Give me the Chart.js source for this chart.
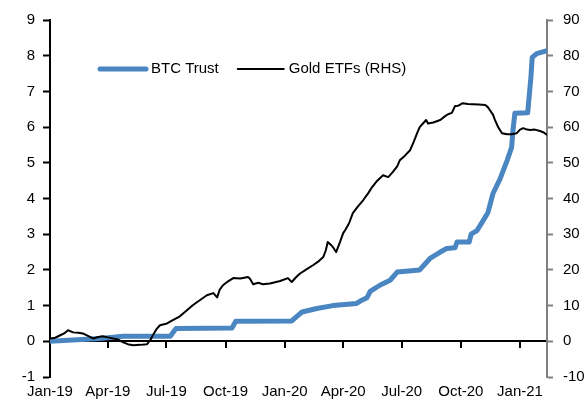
<!DOCTYPE html>
<html>
<head>
<meta charset="utf-8">
<script src="https://cdn.jsdelivr.net/npm/chart.js@4"></script>
<style>
html,body{margin:0;padding:0;background:#fff;}
#wrap{width:588px;height:400px;}
</style>
</head>
<body>
<div id="wrap"><canvas id="c" width="588" height="400"></canvas></div>
<script>
// ---- Data ----
const startDate = '2019-01-01';
const endDate = '2021-02-12';
const tickDates = ['2019-01-01','2019-04-01','2019-07-01','2019-10-01','2020-01-01','2020-04-01','2020-07-01','2020-10-01','2021-01-01'];
const tickLabels = ['Jan-19','Apr-19','Jul-19','Oct-19','Jan-20','Apr-20','Jul-20','Oct-20','Jan-21'];

const btcLabel = 'BTC Trust';
const btcDates = ['2019-01-01','2019-03-20','2019-04-25','2019-07-07','2019-07-16','2019-10-11','2019-10-17','2020-01-12','2020-01-20','2020-01-28',
  '2020-02-20','2020-03-16','2020-04-22','2020-04-30','2020-05-08','2020-05-13','2020-05-28','2020-06-13','2020-06-24','2020-07-29',
  '2020-08-14','2020-08-30','2020-09-09','2020-09-22','2020-09-25','2020-10-14','2020-10-17','2020-10-26','2020-11-03','2020-11-12',
  '2020-11-20','2020-12-01','2020-12-12','2020-12-19','2020-12-21','2020-12-24','2021-01-13','2021-01-15','2021-01-18','2021-01-20',
  '2021-01-27','2021-02-12'];
const btcValues = [0,0.08,0.14,0.14,0.36,0.37,0.56,0.57,0.70,0.82,
  0.92,1.00,1.06,1.15,1.22,1.40,1.57,1.71,1.94,2.00,
  2.32,2.50,2.60,2.62,2.78,2.78,3.00,3.10,3.33,3.60,
  4.14,4.55,5.07,5.43,5.90,6.39,6.40,6.80,7.40,7.95,
  8.06,8.14];

const goldLabel = 'Gold ETFs (RHS)';
const goldDates = ['2019-01-01','2019-01-09','2019-01-17','2019-01-23','2019-01-29','2019-02-06','2019-02-14','2019-02-21','2019-03-01','2019-03-09',
  '2019-03-17','2019-03-24','2019-04-01','2019-04-09','2019-04-17','2019-04-25','2019-05-02','2019-05-10','2019-05-21','2019-06-01',
  '2019-06-06','2019-06-10','2019-06-16','2019-06-21','2019-07-02','2019-07-11','2019-07-22','2019-08-02','2019-08-11','2019-08-18',
  '2019-08-22','2019-09-02','2019-09-12','2019-09-18','2019-09-22','2019-09-27','2019-10-05','2019-10-13','2019-10-24','2019-11-05',
  '2019-11-08','2019-11-13','2019-11-21','2019-11-28','2019-12-09','2019-12-25','2020-01-06','2020-01-12','2020-01-19','2020-01-25',
  '2020-02-05','2020-02-14','2020-02-22','2020-03-01','2020-03-05','2020-03-08','2020-03-13','2020-03-16','2020-03-21','2020-03-27',
  '2020-04-01','2020-04-04','2020-04-10','2020-04-16','2020-04-24','2020-05-02','2020-05-10','2020-05-16','2020-05-24','2020-06-02',
  '2020-06-10','2020-06-17','2020-06-24','2020-06-28','2020-07-06','2020-07-14','2020-07-20','2020-07-25','2020-07-29','2020-08-03',
  '2020-08-08','2020-08-11','2020-08-19','2020-08-30','2020-09-06','2020-09-11','2020-09-17','2020-09-22','2020-09-27','2020-10-04',
  '2020-10-12','2020-10-20','2020-10-29','2020-11-08','2020-11-12','2020-11-15','2020-11-20','2020-11-23','2020-11-28','2020-12-04',
  '2020-12-12','2020-12-19','2020-12-27','2021-01-01','2021-01-06','2021-01-12','2021-01-17','2021-01-24','2021-02-01','2021-02-07',
  '2021-02-12'];
const goldValues = [0.8,1.0,1.7,2.2,3.1,2.5,2.4,2.2,1.5,0.8,
  1.2,1.4,1.1,0.8,0.5,-0.3,-0.8,-1.1,-1.0,-0.8,
  0.3,1.7,3.5,4.5,5.0,5.9,7.0,8.7,10.1,11.0,
  11.5,12.9,13.5,12.3,14.5,15.7,16.8,17.7,17.6,18.0,
  17.5,16.0,16.4,16.0,16.2,16.9,17.7,16.6,18.0,19.0,
  20.3,21.3,22.3,23.6,25.5,27.8,27.0,26.4,25.0,27.8,
  30.3,31.1,33.0,35.9,37.8,39.5,41.5,43.2,45.0,46.5,
  46.0,47.4,49.0,50.7,52.0,53.5,56.0,58.3,60.0,61.0,
  62.0,61.0,61.3,62.0,63.0,63.6,64.0,65.9,66.0,66.7,
  66.5,66.4,66.3,66.2,65.6,64.8,63.5,62.0,60.0,58.3,
  58.0,58.0,58.3,59.3,59.7,59.3,59.2,59.3,58.9,58.5,
  57.8];

const leftTicks = {min: -1, max: 9, step: 1};
const rightTicks = {min: -10, max: 90, step: 10};

// ---- helpers ----
function dayIndex(s){
  const p = s.split('-').map(Number);
  const q = startDate.split('-').map(Number);
  return Math.round((Date.UTC(p[0],p[1]-1,p[2]) - Date.UTC(q[0],q[1]-1,q[2]))/86400000);
}
const tickDays = tickDates.map(dayIndex);
const xMax = dayIndex(endDate);
const toPoints = (dates, vals) => dates.map((d,i)=>({x: dayIndex(d), y: vals[i]}));

const FONT = '"Liberation Sans", Arial, sans-serif';
const BLUE = '#4a86c1';

const setQuarterTicks = (scale) => { scale.ticks = tickDays.map(v => ({value: v})); };

// Legend drawn inside the plot area
const inlineLegend = {
  id: 'inlineLegend',
  afterDatasetsDraw(chart){
    const {ctx, chartArea} = chart;
    const y = chartArea.top + 49;
    let x = chartArea.left + 50;
    ctx.save();
    ctx.font = '15px ' + FONT;
    ctx.textBaseline = 'middle';
    ctx.textAlign = 'left';
    chart.data.datasets.forEach(ds => {
      ctx.beginPath();
      ctx.strokeStyle = ds.borderColor;
      ctx.lineWidth = ds.borderWidth;
      ctx.lineCap = 'round';
      ctx.moveTo(x, y);
      ctx.lineTo(x + 46, y);
      ctx.stroke();
      x += 51;
      ctx.fillStyle = '#000';
      ctx.fillText(ds.label, x, y);
      x += ctx.measureText(ds.label).width + 19;
    });
    ctx.restore();
  }
};

// Quarter tick marks hanging below the zero line (positions from the scales)
const zeroTicks = {
  id: 'zeroTicks',
  afterDraw(chart){
    const {ctx} = chart;
    const xs = chart.scales.x, ys = chart.scales.y;
    const y0 = Math.round(ys.getPixelForValue(0));
    ctx.save();
    ctx.strokeStyle = '#000';
    ctx.lineWidth = 2;
    tickDays.forEach(d => {
      const px = Math.round(xs.getPixelForValue(d));
      if (px <= chart.chartArea.left + 1) return;
      ctx.beginPath();
      ctx.moveTo(px, y0);
      ctx.lineTo(px, y0 + 7);
      ctx.stroke();
    });
    ctx.restore();
  }
};

const whiteBg = {
  id: 'whiteBg',
  beforeDraw(chart){
    const ctx = chart.ctx;
    ctx.save(); ctx.fillStyle = '#fff'; ctx.fillRect(0,0,chart.width,chart.height); ctx.restore();
  }
};

new Chart(document.getElementById('c'), {
  type: 'line',
  data: {
    datasets: [
      { label: btcLabel, data: toPoints(btcDates, btcValues), yAxisID: 'y', xAxisID: 'x',
        borderColor: BLUE, borderWidth: 5, pointRadius: 0, tension: 0, order: 1,
        borderJoinStyle: 'round', borderCapStyle: 'round' },
      { label: goldLabel, data: toPoints(goldDates, goldValues), yAxisID: 'y1', xAxisID: 'x',
        borderColor: '#000', borderWidth: 2, pointRadius: 0, tension: 0, order: 0,
        borderJoinStyle: 'round' }
    ]
  },
  options: {
    responsive: false,
    animation: false,
    devicePixelRatio: 1,
    layout: { padding: { top: 20, left: 0, right: 0, bottom: 0 } },
    plugins: { legend: { display: false }, tooltip: { enabled: false } },
    scales: {
      x: {
        type: 'linear', position: 'bottom', min: 0, max: xMax,
        afterBuildTicks: setQuarterTicks,
        afterFit: s => { s.height = 23; },
        grid: { display: false, drawTicks: false },
        border: { display: false },
        ticks: { color: '#000', font: { family: FONT, size: 15 }, padding: 6, maxRotation: 0, autoSkip: false,
          callback: (v) => { const i = tickDays.indexOf(v); return i >= 0 ? tickLabels[i] : ''; } }
      },
      x2: {
        type: 'linear', position: { y: 0 }, min: 0, max: xMax,
        afterBuildTicks: setQuarterTicks,
        grid: { display: false },
        border: { display: true, color: '#000', width: 2 },
        ticks: { display: false }
      },
      y: {
        type: 'linear', position: 'left', min: leftTicks.min, max: leftTicks.max,
        afterFit: s => { s.width = 50; },
        ticks: { stepSize: leftTicks.step, color: '#000', font: { family: FONT, size: 15 }, padding: 8 },
        grid: { display: true, drawOnChartArea: false, drawTicks: true, tickLength: 7, tickColor: '#000', tickWidth: 2 },
        border: { display: true, color: '#000', width: 2 }
      },
      y1: {
        type: 'linear', position: 'right', min: rightTicks.min, max: rightTicks.max,
        afterFit: s => { s.width = 41; },
        ticks: { stepSize: rightTicks.step, color: '#000', font: { family: FONT, size: 15 }, padding: 10 },
        grid: { display: true, drawOnChartArea: false, drawTicks: true, tickLength: 6, tickColor: '#808080', tickWidth: 2 },
        border: { display: true, color: '#808080', width: 2 }
      }
    }
  },
  plugins: [whiteBg, inlineLegend, zeroTicks]
});
</script>
</body>
</html>
